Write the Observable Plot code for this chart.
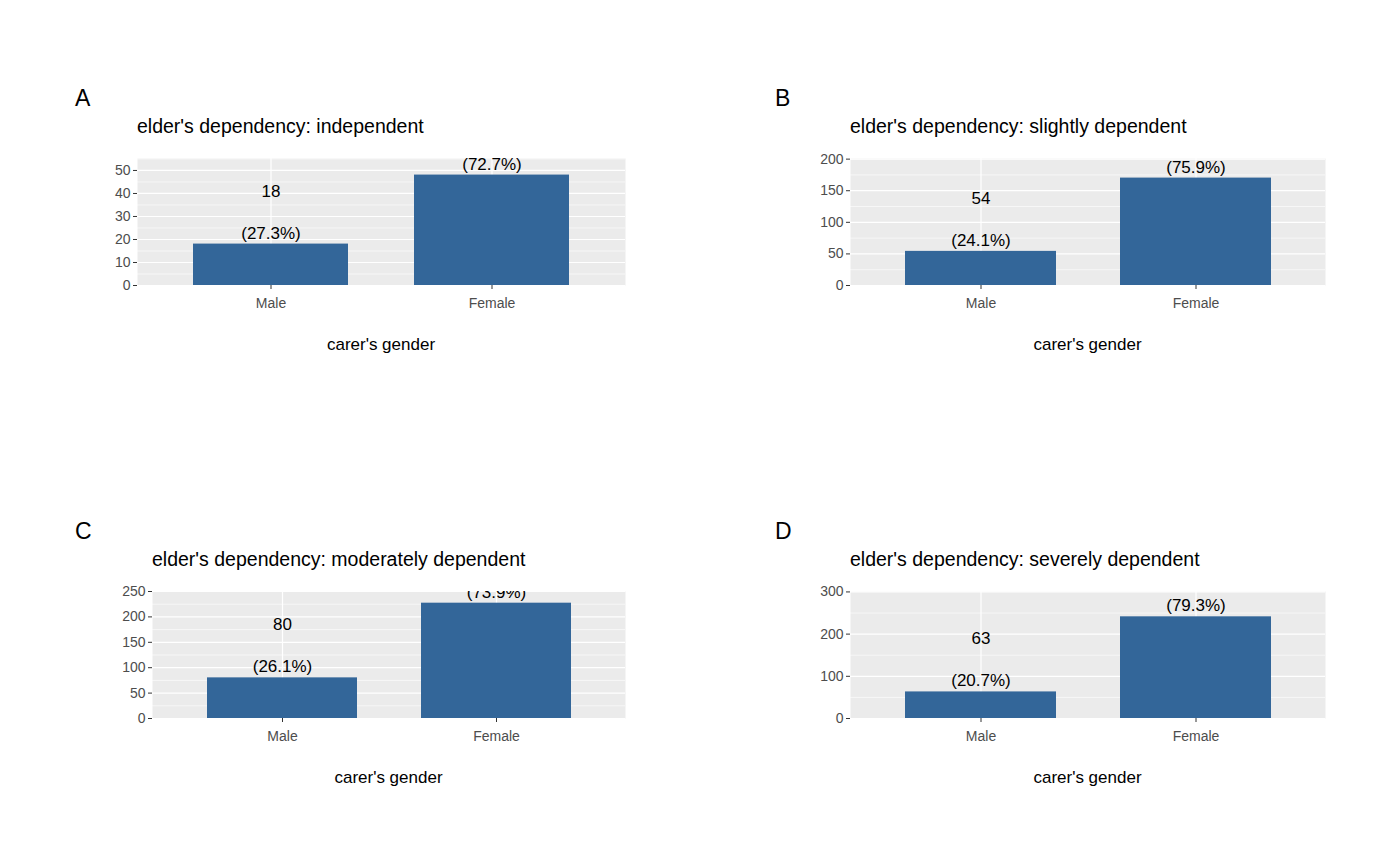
<!DOCTYPE html>
<html><head><meta charset="utf-8">
<script src="https://cdn.jsdelivr.net/npm/d3@7"></script>
<script src="https://cdn.jsdelivr.net/npm/@observablehq/plot@0.6"></script>
<style>
body{margin:0;background:#fff;font-family:Arial,"Liberation Sans",sans-serif}
#root{position:relative;width:1400px;height:866px;overflow:hidden}
.p{position:absolute;width:700px;height:433px;overflow:hidden}
</style></head><body><div id="root"></div>
<script>
const genders = ["Male","Female"];
const tags = ["A","B","C","D"];
const titles = ["elder's dependency: independent","elder's dependency: slightly dependent","elder's dependency: moderately dependent","elder's dependency: severely dependent"];
const maleCounts = [18,54,80,63];
const femaleCounts = [48,170,227,241];
const malePct = ["27.3%","24.1%","26.1%","20.7%"];
const femalePct = ["72.7%","75.9%","73.9%","79.3%"];
const yMax = [55.2,201,250,301];
const yMajor = [[0,10,20,30,40,50],[0,50,100,150,200],[0,50,100,150,200,250],[0,100,200,300]];
const yMinor = [[5,15,25,35,45,55],[25,75,125,175],[25,75,125,175,225],[50,150,250]];
const plotLeft = [137,150,152,150];

const root = document.getElementById("root");
for (let i=0;i<4;i++){
  const ox = (i%2)*700, oy = Math.floor(i/2)*433;
  const data = genders.map((g,j)=>({g, n: j?femaleCounts[i]:maleCounts[i], pct: j?femalePct[i]:malePct[i]}));
  const mL = plotLeft[i], mR = 75, mT = 158, mB = 148;
  const chart = Plot.plot({
    width:700, height:433, marginLeft:mL, marginRight:mR, marginTop:mT, marginBottom:mB,
    style:{fontFamily:"Arial, 'Liberation Sans', sans-serif", background:"transparent", fontSize:"14px"},
    x:{domain:genders, paddingInner:0.3, paddingOuter:0.25, align:0.5, label:null},
    y:{domain:[0,yMax[i]], label:null},
    marks:[
      Plot.frame({fill:"#EBEBEB"}),
      Plot.gridY(yMinor[i],{stroke:"#fff", strokeOpacity:1, strokeWidth:0.6}),
      Plot.gridY(yMajor[i],{stroke:"#fff", strokeOpacity:1, strokeWidth:1.2}),
      Plot.gridX(genders,{stroke:"#fff", strokeOpacity:1, strokeWidth:1.2}),
      Plot.barY(data,{x:"g", y:"n", fill:"#336699"}),
      Plot.text(data,{x:"g", y:"n", text:d=>`(${d.pct})`, dy:-11, fontSize:17, fill:"#000", clip:true}),
      Plot.text(data,{x:"g", y:"n", text:d=>`${d.n}`, dy:-53, fontSize:17, fill:"#000", clip:true}),
      Plot.axisY(yMajor[i],{tickSize:4, tickPadding:3, fill:"#4d4d4d", stroke:"#333"}),
      Plot.axisX({tickSize:4, tickPadding:9, fill:"#4d4d4d", stroke:"#333"})
    ]
  });
  const svg = d3.select(chart);
  const cx = (mL + 700 - mR)/2;
  svg.append("text").attr("x",75).attr("y",106).attr("text-anchor","start").attr("font-size",23).text(tags[i]);
  svg.append("text").attr("x",mL).attr("y",133).attr("text-anchor","start").attr("font-size",19.5).text(titles[i]);
  svg.append("text").attr("x",cx).attr("y",350).attr("text-anchor","middle").attr("font-size",17).text("carer's gender");
  const div = document.createElement("div");
  div.className="p"; div.style.left=ox+"px"; div.style.top=oy+"px";
  div.appendChild(chart); root.appendChild(div);
}
</script></body></html>
